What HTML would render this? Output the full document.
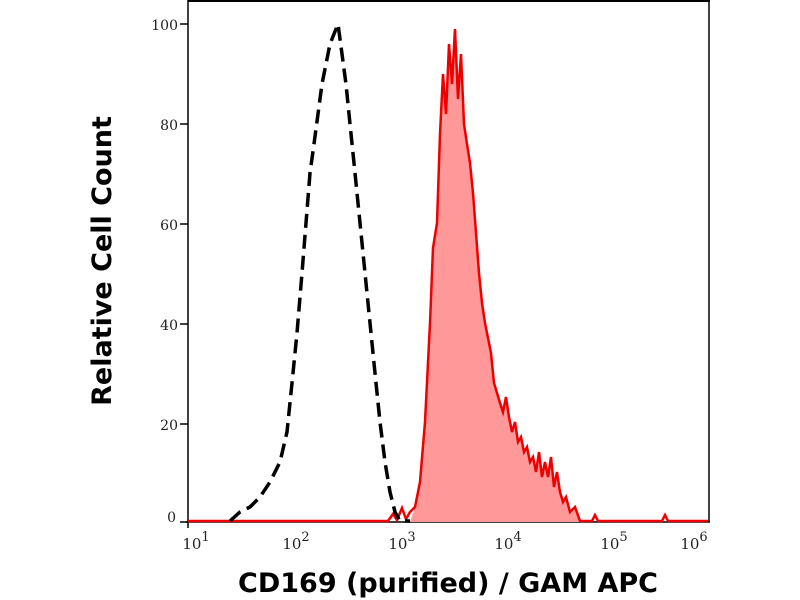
<!DOCTYPE html>
<html><head><style>body{margin:0;background:#fff}svg{display:block}</style></head><body>
<svg width="800" height="600" viewBox="0 0 800 600" xmlns="http://www.w3.org/2000/svg">
<rect width="800" height="600" fill="#fff"/>
<g font-family="DejaVu Serif, serif" font-size="14" fill="#222" text-anchor="end">
<text x="178" y="30">100</text><text x="178" y="130">80</text><text x="178" y="230">60</text>
<text x="178" y="330">40</text><text x="178" y="430">20</text><text x="176" y="522">0</text>
</g>
<g stroke="#000" stroke-width="1.5">
<line x1="180" y1="24" x2="188" y2="24"/><line x1="180" y1="124" x2="188" y2="124"/><line x1="180" y1="224" x2="188" y2="224"/>
<line x1="180" y1="324" x2="188" y2="324"/><line x1="180" y1="424" x2="188" y2="424"/><line x1="180" y1="522" x2="188" y2="522"/>
<line x1="188" y1="0" x2="188" y2="528"/><line x1="186" y1="522" x2="710" y2="522"/>
<line x1="188" y1="1" x2="710" y2="1" stroke-width="2"/><line x1="709" y1="0" x2="709" y2="522"/>
</g>
<g stroke="#000" stroke-width="1.2" id="ticks"></g>
<polygon fill="#f99" points="410,522 415,507 420,482 425,422 430,323 433,248 437,223 440,134 443,74 446,114 449,44 452,84 455,29 458,99 461,54 464,124 467,144 470,163 473,193 476,233 479,273 482,303 485,323 488,338 491,353 494,383 497,393 500,403 503,412 506,397 509,417 512,432 515,422 518,442 521,437 524,452 527,447 530,462 533,457 536,472 539,452 542,477 545,462 548,477 551,457 554,487 557,472 560,492 563,502 566,497 570,512 575,507 580,522"/>
<polyline fill="none" stroke="#e00" stroke-width="2.5" points="188,521 388,521 393,514 397,520 402,508 406,519 410,512 415,507 420,482 425,422 430,323 433,248 437,223 440,134 443,74 446,114 449,44 452,84 455,29 458,99 461,54 464,124 467,144 470,163 473,193 476,233 479,273 482,303 485,323 488,338 491,353 494,383 497,393 500,403 503,412 506,397 509,417 512,432 515,422 518,442 521,437 524,452 527,447 530,462 533,457 536,472 539,452 542,477 545,462 548,477 551,457 554,487 557,472 560,492 563,502 566,497 570,512 575,507 580,521 592,521 595,515 598,521 662,521 665,515 668,521 708,521"/>
<polyline fill="none" stroke="#000" stroke-width="3.5" stroke-dasharray="14,7" points="230,521 240,512 250,507 260,497 270,482 280,462 287,432 292,383 297,333 302,273 306,223 310,173 314,144 318,114 322,84 326,64 330,44 334,34 338,24 342,54 346,84 350,124 355,173 360,223 365,273 370,323 375,373 380,422 385,462 390,492 395,512 400,521 410,521"/>
<g font-family="DejaVu Serif, serif" font-size="15" fill="#222" text-anchor="middle">
<text x="196" y="549">10<tspan dy="-8" font-size="13">1</tspan></text>
<text x="296" y="549">10<tspan dy="-8" font-size="13">2</tspan></text>
<text x="402" y="549">10<tspan dy="-8" font-size="13">3</tspan></text>
<text x="508" y="549">10<tspan dy="-8" font-size="13">4</tspan></text>
<text x="614" y="549">10<tspan dy="-8" font-size="13">5</tspan></text>
<text x="694" y="549">10<tspan dy="-8" font-size="13">6</tspan></text>
</g>
<text x="448" y="592" font-family="DejaVu Sans, sans-serif" font-weight="bold" font-size="27" text-anchor="middle">CD169 (purified) / GAM APC</text>
<text transform="translate(111,261) rotate(-90)" font-family="DejaVu Sans, sans-serif" font-weight="bold" font-size="27" text-anchor="middle">Relative Cell Count</text>
<script>
var g=document.getElementById('ticks'),s='';
for(var d=0;d<6;d++){for(var k=1;k<10;k++){var x=188+106*(d+Math.log10(k));if(x>709)break;var L=k==1?8:4;s+='<line x1="'+x+'" y1="522" x2="'+x+'" y2="'+(522+L)+'"/>';}}
g.innerHTML=s;
</script>
</svg>
</body></html>
